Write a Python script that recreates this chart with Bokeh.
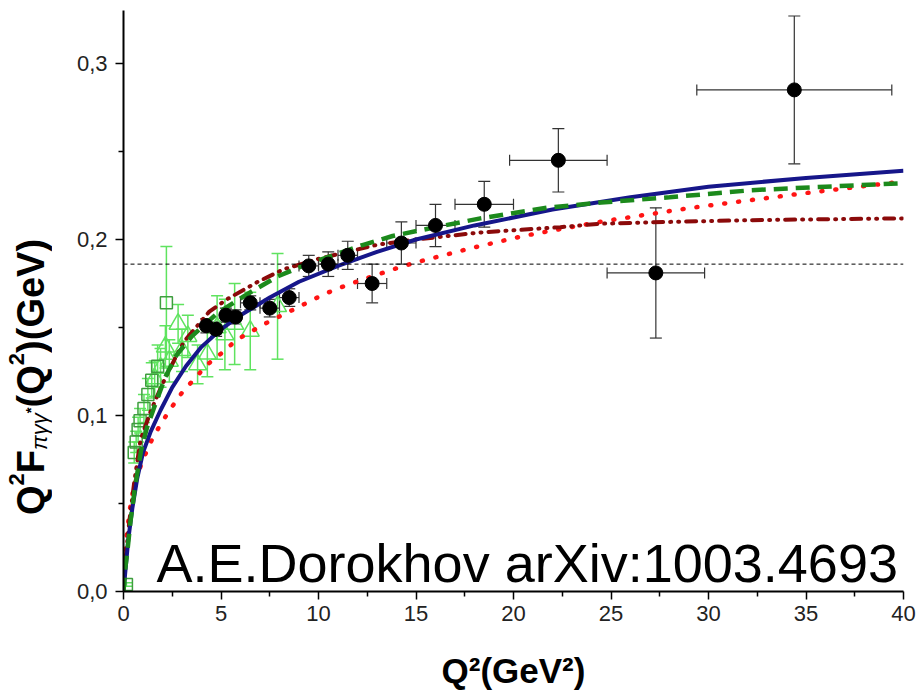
import numpy as np
from bokeh.plotting import figure
from bokeh.layouts import row
from bokeh.models import (ColumnDataSource, Whisker, TeeHead, Span, Label, Div,
                          FixedTicker, CustomJSTickFormatter, Range1d)
from bokeh.embed import file_html
from bokeh.resources import INLINE

# ---------------- data ----------------
# black points with errors
bk_q2 = [4.25, 4.75, 5.25, 5.75, 6.5, 7.5, 8.5, 9.5, 10.5, 11.5, 12.75, 14.25, 16.0, 18.5, 22.3, 27.3, 34.4]
bk_f = [0.151, 0.149, 0.157, 0.156, 0.164, 0.161, 0.167, 0.185, 0.186, 0.191, 0.175, 0.198, 0.208, 0.220, 0.245, 0.181, 0.285]
bk_df = [0.004, 0.004, 0.004, 0.004, 0.004, 0.005, 0.005, 0.006, 0.007, 0.008, 0.011, 0.012, 0.012, 0.013, 0.018, 0.037, 0.042]
bk_dq2 = [0.25, 0.25, 0.25, 0.25, 0.5, 0.5, 0.5, 0.5, 0.5, 0.5, 0.75, 0.75, 1.0, 1.5, 2.5, 2.5, 5.0]

# open squares (low Q^2)
sq_q2 = [0.15, 0.55, 0.65, 0.75, 0.85, 1.05, 1.25, 1.45, 1.75, 2.2]
sq_f = [0.004, 0.079, 0.085, 0.092, 0.097, 0.104, 0.112, 0.120, 0.128, 0.164]
sq_df = [0.001, 0.006, 0.006, 0.007, 0.007, 0.008, 0.009, 0.010, 0.012, 0.032]

# open triangles
tr_q2 = [1.6, 1.9, 2.15, 2.35, 2.8, 3.0, 3.3, 3.8, 4.3, 4.8, 5.2, 5.7, 6.5, 7.9]
tr_f = [0.121, 0.127, 0.139, 0.131, 0.152, 0.137, 0.145, 0.129, 0.135, 0.150, 0.146, 0.152, 0.148, 0.162]
tr_df = [0.010, 0.011, 0.012, 0.012, 0.011, 0.012, 0.012, 0.011, 0.013, 0.018, 0.020, 0.023, 0.022, 0.030]

# theory curves
blue_q2 = [0, 0.1, 0.25, 0.45, 0.7, 1.0, 1.4, 1.9, 2.5, 3.2, 4.0, 5.0, 6.0, 7.5, 9.0, 11.0, 13.0, 15.0, 18.0, 22.0, 26.0, 30.0, 35.0, 40.0]
blue_f = [0, 0.012, 0.030, 0.047, 0.064, 0.079, 0.091, 0.103, 0.116, 0.128, 0.139, 0.149, 0.157, 0.167, 0.176, 0.185, 0.193, 0.200, 0.208, 0.217, 0.224, 0.230, 0.235, 0.239]

green_q2 = [0, 0.1, 0.2, 0.36, 0.6, 0.9, 1.2, 1.65, 2.15, 2.7, 3.5, 4.8, 6.2, 7.9, 9.2, 11.0, 12.3, 13.8, 16.0, 18.3, 21.7, 24.5, 28.0, 32.2, 36.0, 40.0]
green_f = [0, 0.014, 0.023, 0.040, 0.060, 0.080, 0.093, 0.107, 0.122, 0.134, 0.145, 0.158, 0.168, 0.179, 0.185, 0.192, 0.197, 0.202, 0.207, 0.212, 0.218, 0.221, 0.224, 0.228, 0.230, 0.232]

dred_q2 = [0, 0.1, 0.3, 0.55, 0.87, 1.38, 2.0, 2.67, 3.1, 4.4, 5.3, 6.9, 8.2, 10.0, 13.0, 15.0, 18.3, 22.4, 24.5, 28.0, 32.2, 36.0, 40.0]
dred_f = [0, 0.018, 0.040, 0.062, 0.086, 0.102, 0.118, 0.133, 0.142, 0.159, 0.166, 0.176, 0.183, 0.189, 0.197, 0.200, 0.204, 0.207, 0.209, 0.210, 0.211, 0.2115, 0.212]

red_q2 = [0, 0.05, 0.15, 0.3, 0.5, 0.77, 1.0, 1.4, 1.8, 2.3, 3.0, 4.3, 5.1, 5.8, 7.4, 8.5, 9.4, 10.3, 11.2, 12.2, 14.1, 15.0, 17.8, 20.5, 24.4, 29.1, 34.7, 40.0]
red_f = [0, 0.015, 0.030, 0.045, 0.058, 0.068, 0.075, 0.085, 0.093, 0.102, 0.113, 0.129, 0.136, 0.143, 0.153, 0.159, 0.164, 0.169, 0.173, 0.177, 0.184, 0.187, 0.195, 0.202, 0.210, 0.218, 0.226, 0.233]

asymptote = 0.186  # horizontal dashed line

x_ticks = [0, 5, 10, 15, 20, 25, 30, 35, 40]
y_ticks = [0.0, 0.1, 0.2, 0.3]

# ---------------- layout helpers ----------------
PX_X0, PX_PER_X = 123.0, 19.5      # page pixel of x=0, pixels per unit
PX_Y0, PX_PER_Y = 591.0, 1760.0    # page pixel of y=0, pixels per unit
DIV_W = 70


def dx(page_x):
    return (page_x - PX_X0) / PX_PER_X


def dy(page_y):
    return (PX_Y0 - page_y) / PX_PER_Y


p = figure(frame_width=780, frame_height=581,
           min_border_left=int(PX_X0) - DIV_W, min_border_right=14,
           min_border_top=10, min_border_bottom=104,
           x_range=Range1d(0, 40), y_range=Range1d(0, 581 / PX_PER_Y),
           output_backend="svg", toolbar_location=None, margin=0)
p.outline_line_color = None
p.xgrid.visible = False
p.ygrid.visible = False
p.background_fill_color = "white"
p.border_fill_color = "white"

tick_font = "'Liberation Sans', Arial, sans-serif"
for ax in (p.xaxis[0], p.yaxis[0]):
    ax.axis_line_width = 2
    ax.axis_line_color = "black"
    ax.major_tick_line_width = 1.5
    ax.minor_tick_line_width = 1.5
    ax.major_tick_out = 8
    ax.major_tick_in = 0
    ax.minor_tick_out = 5
    ax.minor_tick_in = 0
    ax.major_label_text_font = tick_font
    ax.major_label_text_font_size = "22px"
    ax.major_label_text_color = "#222222"

p.xaxis.ticker = FixedTicker(ticks=x_ticks,
                             minor_ticks=[t + 2.5 for t in x_ticks[:-1]])
p.yaxis.ticker = FixedTicker(ticks=y_ticks,
                             minor_ticks=[t + 0.05 for t in y_ticks])
p.yaxis.formatter = CustomJSTickFormatter(code="return tick.toFixed(1).replace('.', ',');")
p.xaxis.major_label_standoff = 6
p.yaxis.major_label_standoff = 8

p.xaxis.axis_label = "Q\u00b2(GeV\u00b2)"
p.xaxis.axis_label_text_font = tick_font
p.xaxis.axis_label_text_font_style = "bold"
p.xaxis.axis_label_text_font_size = "35px"
p.xaxis.axis_label_text_color = "black"
p.xaxis.axis_label_standoff = 27

# ---------------- data error bars and markers ----------------
bk = ColumnDataSource(dict(
    x=bk_q2, y=bk_f,
    yl=np.array(bk_f) - np.array(bk_df), yu=np.array(bk_f) + np.array(bk_df),
    xl=np.array(bk_q2) - np.array(bk_dq2), xu=np.array(bk_q2) + np.array(bk_dq2)))
sq = ColumnDataSource(dict(
    x=sq_q2, y=sq_f,
    yl=np.array(sq_f) - np.array(sq_df), yu=np.array(sq_f) + np.array(sq_df)))
tr = ColumnDataSource(dict(
    x=tr_q2, y=tr_f,
    yl=np.array(tr_f) - np.array(tr_df), yu=np.array(tr_f) + np.array(tr_df)))

lgreen = "#5fe35f"
for src in (tr, sq):
    p.add_layout(Whisker(source=src, base="x", lower="yl", upper="yu", dimension="height",
                         line_color=lgreen, line_width=1.5,
                         lower_head=TeeHead(size=12, line_color=lgreen, line_width=1.5),
                         upper_head=TeeHead(size=12, line_color=lgreen, line_width=1.5)))

p.scatter("x", "y", source=tr, marker="triangle", size=18, fill_color=None,
          line_color=lgreen, line_width=1.5)
p.scatter("x", "y", source=sq, marker="square", size=12, fill_color=None,
          line_color="#3e9e3e", line_width=1.5)

p.add_layout(Whisker(source=bk, base="x", lower="yl", upper="yu", dimension="height",
                     line_color="#333333", line_width=1.2,
                     lower_head=TeeHead(size=12, line_color="#333333", line_width=1.2),
                     upper_head=TeeHead(size=12, line_color="#333333", line_width=1.2)))
p.add_layout(Whisker(source=bk, base="y", lower="xl", upper="xu", dimension="width",
                     line_color="#333333", line_width=1.2,
                     lower_head=TeeHead(size=11, line_color="#333333", line_width=1.2),
                     upper_head=TeeHead(size=11, line_color="#333333", line_width=1.2)))

# ---------------- reference line and curves ----------------
p.add_layout(Span(location=asymptote, dimension="width", line_color="black",
                  line_width=1, line_dash="4 3"))

p.line(red_q2, red_f, line_color="#ff1414", line_width=4.5, line_dash="1 13",
       line_cap="round")
p.line(dred_q2, dred_f, line_color="#8b0a0a", line_width=4, line_dash="10 7 1 7 1 7",
       line_cap="round")
p.line(blue_q2, blue_f, line_color="#16168a", line_width=4)
p.line(green_q2, green_f, line_color="#1c8a1c", line_width=4.5, line_dash="14 8")

p.scatter("x", "y", source=bk, marker="circle", size=14, fill_color="black",
          line_color="black")

# ---------------- in-plot text ----------------
p.add_layout(Label(x=dx(156), y=dy(562), text="A.E.Dorokhov arXiv:1003.4693",
                   text_font=tick_font, text_font_size="54px", text_color="black",
                   text_align="left", text_baseline="alphabetic"))

# ---------------- rotated y-axis label (HTML for sub/superscripts) ----------------
ylabel_html = (
    '<div style="writing-mode:vertical-rl; transform:rotate(180deg); white-space:nowrap;'
    " font-family:'Liberation Sans', Arial, sans-serif; font-weight:bold; font-size:38px;"
    ' line-height:38px; height:330px; color:black; margin-top:185px; margin-left:12px;">'
    'Q<sup style="font-size:22px; line-height:0;">2</sup>F'
    '<sub style="font-size:22px; line-height:0; font-weight:normal; font-style:italic;">'
    '\u03c0\u03b3\u03b3</sub>'
    '<span style="font-size:15px; line-height:0;">*</span>'
    '(Q<sup style="font-size:22px; line-height:0;">2</sup>)(GeV)</div>'
)
ylab = Div(text=ylabel_html, width=DIV_W, height=695, margin=0)

layout = row(ylab, p)
open("out.html", "w").write(file_html(layout, INLINE))
